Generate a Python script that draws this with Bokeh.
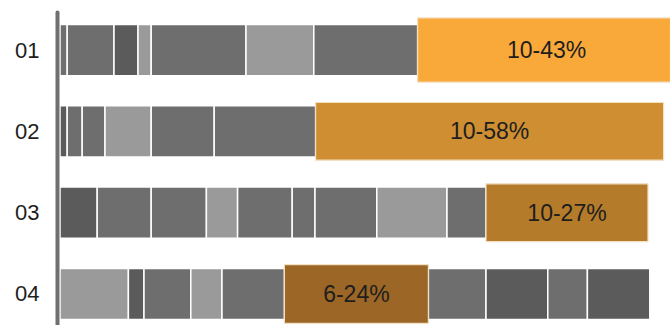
from bokeh.plotting import figure
from bokeh.models import ColumnDataSource, Range1d, FixedTicker
from bokeh.core.properties import value
from bokeh.embed import file_html
from bokeh.resources import INLINE

# Rows, top to bottom
rows = ["01", "02", "03", "04"]

# Segment widths (%) for each row, left to right
seg_01 = [1.2, 7.8, 4.0, 2.2, 15.8, 11.3, 17.3, 43]
seg_02 = [1.2, 2.5, 3.8, 7.7, 10.5, 16.9, 58]
seg_03 = [6.2, 9.0, 9.2, 5.2, 9.1, 3.8, 10.3, 11.7, 6.5, 27]
seg_04 = [11.4, 2.6, 7.8, 5.2, 10.4, 24, 9.6, 10.3, 6.6, 10.4]

# Shade of each segment: m = mid grey, d = dark grey, l = light grey, h = highlighted range
shade_01 = ["m", "m", "d", "l", "m", "l", "m", "h"]
shade_02 = ["d", "m", "m", "l", "m", "m", "h"]
shade_03 = ["d", "m", "m", "l", "m", "m", "m", "l", "m", "h"]
shade_04 = ["l", "d", "m", "l", "m", "h", "m", "d", "m", "d"]

# Range labels on the highlighted segments
range_labels = ["10-43%", "10-58%", "10-27%", "6-24%"]

segments = [seg_01, seg_02, seg_03, seg_04]
shades = [shade_01, shade_02, shade_03, shade_04]

grey = {"m": "#6e6e6e", "d": "#5b5b5b", "l": "#9a9a9a"}
highlight_colors = ["#f9a93a", "#ce8e31", "#b47b2a", "#9c6626"]
highlight_heights = [0.79, 0.71, 0.71, 0.72]

g = dict(y=[], left=[], right=[], color=[])
h = dict(y=[], left=[], right=[], color=[], height=[], label=[], mid=[])
for i, (widths, kinds) in enumerate(zip(segments, shades)):
    ypos = len(rows) - i
    start = 0.0
    for w, k in zip(widths, kinds):
        if k == "h":
            h["y"].append(ypos)
            h["left"].append(start)
            h["right"].append(start + w)
            h["color"].append(highlight_colors[i])
            h["height"].append(highlight_heights[i])
            h["label"].append(range_labels[i])
            h["mid"].append(start + w / 2)
        else:
            g["y"].append(ypos)
            g["left"].append(start)
            g["right"].append(start + w)
            g["color"].append(grey[k])
        start += w

grey_src = ColumnDataSource(g)
hi_src = ColumnDataSource(h)

px_per_unit = 6.0
left_border = 57
frame_w = 670 - left_border
x0 = -2.5 / px_per_unit

y_lo, y_hi = 0.6126, 4.609

p = figure(
    width=670, height=325,
    output_backend="svg", toolbar_location=None,
    x_axis_location=None,
    x_range=Range1d(x0, x0 + frame_w / px_per_unit),
    y_range=Range1d(y_lo, y_hi),
    min_border_left=left_border, min_border_right=0,
    min_border_top=0, min_border_bottom=0,
)
p.outline_line_color = None
p.xgrid.visible = False
p.ygrid.visible = False
p.background_fill_color = "white"
p.border_fill_color = "white"

p.hbar(y="y", left="left", right="right", height=0.63, source=grey_src,
       fill_color="color", line_color="white", line_width=1.5)
p.hbar(y="y", left="left", right="right", height="height", source=hi_src,
       fill_color="color", line_color="#f3dfc2", line_width=1.2)
p.text(x="mid", y="y", text="label", source=hi_src,
       text_align="center", text_baseline="middle",
       text_font=value("Liberation Sans"), text_font_size="23px",
       text_color="#1e1e1e")

ax = p.yaxis[0]
ax.ticker = FixedTicker(ticks=[len(rows) - i for i in range(len(rows))])
ax.major_label_overrides = {len(rows) - i: r for i, r in enumerate(rows)}
ax.bounds = (y_lo, 4.461)
ax.axis_line_color = "#707070"
ax.axis_line_width = 4
ax.axis_line_cap = "round"
ax.major_tick_line_color = None
ax.minor_tick_line_color = None
ax.major_tick_in = 0
ax.major_tick_out = 0
ax.major_label_standoff = 18
ax.major_label_text_font = "Liberation Sans"
ax.major_label_text_font_size = "22px"
ax.major_label_text_color = "#1e1e1e"

open("out.html", "w").write(file_html(p, INLINE))
